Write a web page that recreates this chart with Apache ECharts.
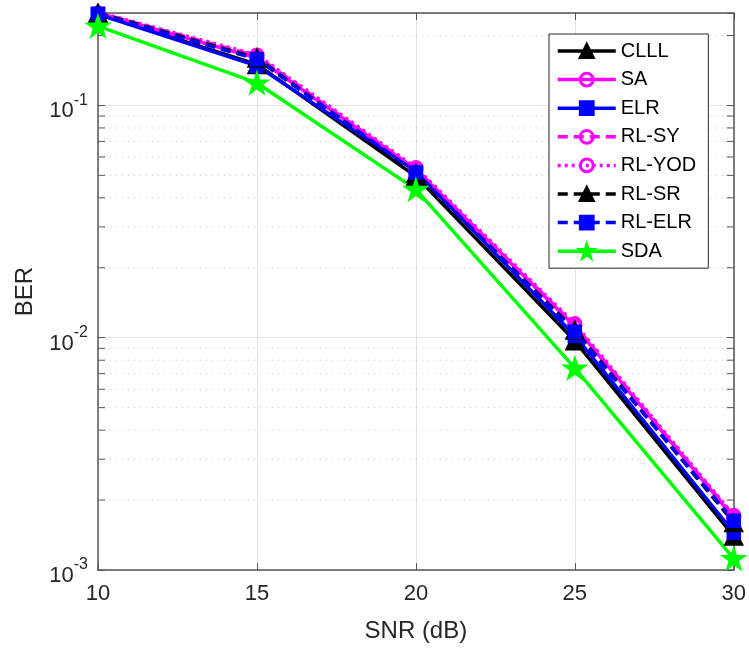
<!DOCTYPE html>
<html><head><meta charset="utf-8">
<script src="https://cdn.jsdelivr.net/npm/echarts@6/dist/echarts.min.js"></script>
<style>html,body{margin:0;padding:0;background:#fff}#c{width:749px;height:650px}</style>
</head><body><div id="c"></div>
<script>
// ---- data ----
const snr = [10, 15, 20, 25, 30];
const clll  = [0.248, 0.150, 0.0495, 0.0097, 0.00140];
const sa    = [0.250, 0.160, 0.0530, 0.0112, 0.00168];
const elr   = [0.247, 0.148, 0.0520, 0.0102, 0.00145];
const rlsy  = [0.251, 0.163, 0.0530, 0.0113, 0.00170];
const rlyod = [0.252, 0.165, 0.0540, 0.0115, 0.00172];
const rlsr  = [0.250, 0.160, 0.0510, 0.0108, 0.00160];
const rlelr = [0.248, 0.158, 0.0515, 0.0106, 0.00163];
const sda   = [0.2197, 0.125, 0.0435, 0.0074, 0.00112];
const minorY = [0.002,0.003,0.004,0.005,0.006,0.007,0.008,0.009,
                0.02,0.03,0.04,0.05,0.06,0.07,0.08,0.09,0.2];
const xMin = 10, xMax = 30, xStep = 5;
const yMin = 0.001, yMax = 0.25;

const FONT = '"Liberation Sans", Arial, Helvetica, sans-serif';
const AX = '#555555';
const TXT = '#262626';
const STAR = 'path://M50,0 L61.8,35.4 L100,35.4 L69.1,57.3 L80.9,95.1 L50,72.4 L19.1,95.1 L30.9,57.3 L0,35.4 L38.2,35.4 Z';
const LW = 3.5;

function mk(name, vals, color, dash, symbol, size, hollow) {
  return {
    name, type: 'line', xAxisIndex: 0, yAxisIndex: 0,
    data: snr.map((x, i) => [x, vals[i]]),
    symbol, symbolSize: size, symbolKeepAspect: true, showSymbol: true,
    lineStyle: { color, width: LW, type: dash },
    itemStyle: hollow ? { color: 'rgba(255,255,255,0)', borderColor: color, borderWidth: 3 }
                      : { color, borderColor: color, borderWidth: 1.5 },
    emphasis: { disabled: true }, animation: false, z: 3
  };
}
const DASH = [10, 6], DOT = [3, 4];
const lineSeries = [
  mk('CLLL', clll, '#000000', 'solid', 'triangle', 18, false),
  mk('SA', sa, '#ff00ff', 'solid', 'circle', 12, true),
  mk('ELR', elr, '#0000ff', 'solid', 'rect', 13, false),
  mk('RL-SY', rlsy, '#ff00ff', DASH, 'circle', 12, true),
  mk('RL-YOD', rlyod, '#ff00ff', DOT, 'circle', 12, true),
  mk('RL-SR', rlsr, '#000000', DASH, 'triangle', 18, false),
  mk('RL-ELR', rlelr, '#0000ff', DASH, 'rect', 13, false),
  mk('SDA', sda, '#00ff00', 'solid', STAR, 23, false)
];

const minorSeries = {
  type: 'custom', name: 'minor', xAxisIndex: 0, yAxisIndex: 0, z: 1, silent: true, animation: false,
  data: minorY.map(v => [xMin, v]),
  encode: { x: 0, y: 1 },
  renderItem: function (params, api) {
    const v = api.value(1);
    const p0 = api.coord([xMin, v]);
    const p1 = api.coord([xMax, v]);
    return { type: 'group', children: [
      { type: 'line', shape: { x1: p0[0], y1: p0[1], x2: p1[0], y2: p1[1] },
        style: { stroke: '#c4c4c4', lineWidth: 1, lineDash: [1, 5] } },
      { type: 'line', shape: { x1: p0[0], y1: p0[1], x2: p0[0] + 7, y2: p0[1] },
        style: { stroke: AX, lineWidth: 1 } },
      { type: 'line', shape: { x1: p1[0] - 7, y1: p1[1], x2: p1[0], y2: p1[1] },
        style: { stroke: AX, lineWidth: 1 } }
    ]};
  }
};

function isPow10(v) { const l = Math.log10(v); return Math.abs(l - Math.round(l)) < 1e-6; }

const xBase = {
  type: 'value', min: xMin, max: xMax, interval: xStep,
  axisLine: { show: true, onZero: false, lineStyle: { color: AX, width: 1.5 } },
  axisTick: { show: true, inside: true, length: 7, lineStyle: { color: AX } },
  splitLine: { show: false }
};
const yBase = {
  type: 'log', logBase: 10, min: yMin, max: yMax, interval: 1,
  axisLine: { show: true, onZero: false, lineStyle: { color: AX, width: 1.5 } },
  axisTick: { show: true, inside: true, length: 7, lineStyle: { color: AX } },
  splitLine: { show: false }
};

const option = {
  backgroundColor: '#ffffff',
  animation: false,
  textStyle: { fontFamily: FONT },
  grid: { left: 98, right: 15, top: 13, bottom: 80, containLabel: false },
  xAxis: [
    Object.assign({}, xBase, {
      position: 'bottom',
      name: 'SNR (dB)', nameLocation: 'middle', nameGap: 49,
      nameTextStyle: { fontSize: 24, color: TXT, fontFamily: FONT },
      axisLabel: { fontSize: 22, color: TXT, margin: 13, fontFamily: FONT },
      splitLine: { show: true, lineStyle: { color: '#e3e3e3', width: 1 } }
    }),
    Object.assign({}, xBase, { position: 'top', axisLabel: { show: false } })
  ],
  yAxis: [
    Object.assign({}, yBase, {
      position: 'left',
      name: 'BER', nameLocation: 'middle', nameGap: 61, nameRotate: 90,
      nameTextStyle: { fontSize: 24, color: TXT, fontFamily: FONT },
      axisLabel: {
        margin: 10, color: TXT, fontFamily: FONT,
        formatter: function (v) {
          if (!isPow10(v)) return '';
          return '{b|10}{s|' + Math.round(Math.log10(v)) + '}';
        },
        rich: {
          b: { fontSize: 22, color: TXT, fontFamily: FONT, padding: [12, 0, 0, 0] },
          s: { fontSize: 16, color: TXT, fontFamily: FONT, padding: [4, 0, 14, 0] }
        }
      },
      splitLine: { show: true, lineStyle: { color: '#e3e3e3', width: 1 } }
    }),
    Object.assign({}, yBase, { position: 'right', axisLabel: { show: false } })
  ],
  legend: {
    data: ['CLLL', 'SA', 'ELR', 'RL-SY', 'RL-YOD', 'RL-SR', 'RL-ELR', 'SDA'],
    orient: 'vertical', left: 549, top: 34,
    itemWidth: 58, itemHeight: 16, itemGap: 8.6,
    padding: [7, 12, 7, 7],
    lineStyle: { width: 3.5 },
    itemStyle: { borderWidth: 3 },
    backgroundColor: '#ffffff', borderColor: '#262626', borderWidth: 1, borderRadius: 0,
    textStyle: { fontSize: 20, color: '#000', fontFamily: FONT, lineHeight: 20 },
    selectedMode: false
  },
  series: [minorSeries].concat(lineSeries)
};

const chart = echarts.init(document.getElementById('c'), null, { renderer: 'canvas' });
chart.setOption(option);
</script>
</body></html>
